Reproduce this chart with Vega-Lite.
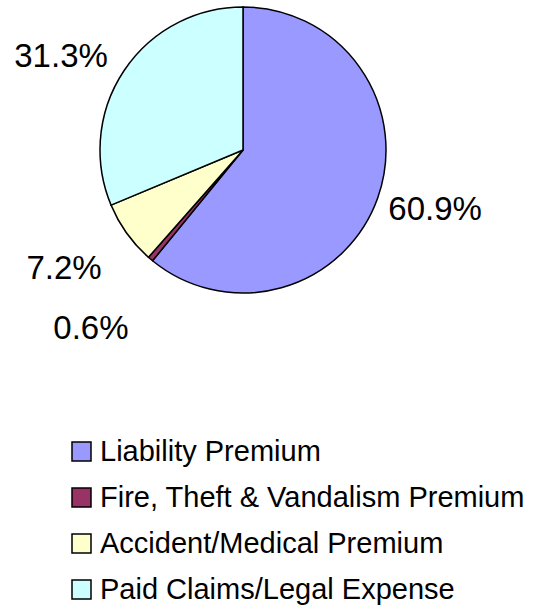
{
  "$schema": "https://vega.github.io/schema/vega-lite/v6.json",
  "width": 486,
  "height": 300,
  "autosize": {"type": "none"},
  "padding": {"left": 0, "top": 0, "right": 47, "bottom": 306},
  "background": "white",
  "config": {"view": {"stroke": null}, "font": "Liberation Sans"},
  "data": {
    "values": [
      {"category": "Liability Premium", "share": 0.609, "rank": 1},
      {"category": "Fire, Theft & Vandalism Premium", "share": 0.006, "rank": 2},
      {"category": "Accident/Medical Premium", "share": 0.072, "rank": 3},
      {"category": "Paid Claims/Legal Expense", "share": 0.313, "rank": 4}
    ]
  },
  "encoding": {
    "theta": {"field": "share", "type": "quantitative", "stack": true},
    "order": {"field": "rank", "type": "quantitative"}
  },
  "layer": [
    {
      "mark": {"type": "arc", "outerRadius": 143, "stroke": "black", "strokeWidth": 1.5},
      "encoding": {
        "color": {
          "field": "category",
          "type": "nominal",
          "sort": ["Liability Premium", "Fire, Theft & Vandalism Premium", "Accident/Medical Premium", "Paid Claims/Legal Expense"],
          "scale": {
            "domain": ["Liability Premium", "Fire, Theft & Vandalism Premium", "Accident/Medical Premium", "Paid Claims/Legal Expense"],
            "range": ["#9999FF", "#993366", "#FFFFCC", "#CCFFFF"]
          },
          "legend": {
            "orient": "none",
            "legendX": 67,
            "legendY": 437,
            "title": null,
            "padding": 0,
            "symbolType": "square",
            "symbolSize": 361,
            "symbolStrokeColor": "black",
            "symbolStrokeWidth": 1.5,
            "symbolOpacity": 1,
            "labelFont": "Liberation Sans",
            "labelFontSize": 29,
            "labelColor": "black",
            "labelOffset": 4,
            "rowPadding": 16,
            "labelLimit": 600
          }
        }
      }
    },
    {
      "mark": {"type": "text", "radius": 204, "dy": -8, "fontSize": 33, "font": "Liberation Sans", "align": "center", "baseline": "middle"},
      "encoding": {
        "detail": {"field": "category"},
        "color": {"value": "black"},
        "text": {"condition": {"test": "datum.rank == 1", "field": "share", "format": ".1%"}, "value": ""}
      }
    },
    {
      "mark": {"type": "text", "radius": 235, "fontSize": 33, "font": "Liberation Sans", "align": "center", "baseline": "middle"},
      "encoding": {
        "detail": {"field": "category"},
        "color": {"value": "black"},
        "text": {"condition": {"test": "datum.rank == 2", "field": "share", "format": ".1%"}, "value": ""}
      }
    },
    {
      "mark": {"type": "text", "radius": 214, "dx": -5, "dy": -6, "fontSize": 33, "font": "Liberation Sans", "align": "center", "baseline": "middle"},
      "encoding": {
        "detail": {"field": "category"},
        "color": {"value": "black"},
        "text": {"condition": {"test": "datum.rank == 3", "field": "share", "format": ".1%"}, "value": ""}
      }
    },
    {
      "mark": {"type": "text", "radius": 203, "dx": -13, "dy": 20, "fontSize": 33, "font": "Liberation Sans", "align": "center", "baseline": "middle"},
      "encoding": {
        "detail": {"field": "category"},
        "color": {"value": "black"},
        "text": {"condition": {"test": "datum.rank == 4", "field": "share", "format": ".1%"}, "value": ""}
      }
    }
  ]
}
